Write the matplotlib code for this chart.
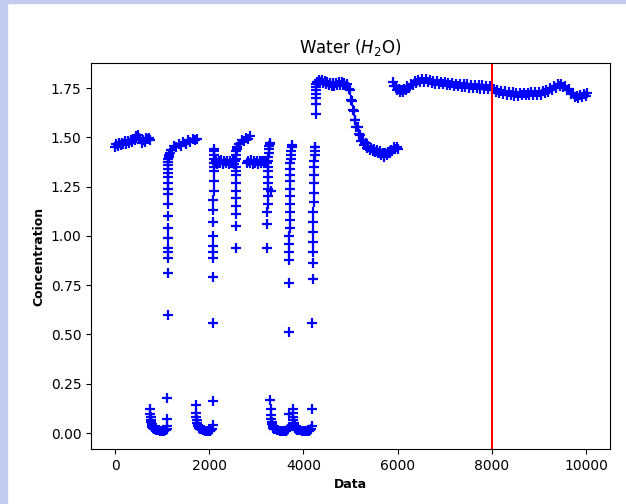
import numpy as np
import matplotlib.pyplot as plt
from matplotlib.patches import Rectangle

# segment before first dip
x_a = [0, 30, 60, 90, 120, 150, 180, 210, 240, 270, 300, 330, 360, 390, 420, 450, 480,
       510, 540, 570, 600, 630, 660, 690, 720, 750]
y_a = [1.452, 1.466, 1.456, 1.472, 1.462, 1.472, 1.466, 1.48, 1.465, 1.482, 1.472, 1.484,
       1.476, 1.494, 1.484, 1.506, 1.512, 1.496, 1.49, 1.47, 1.484, 1.478, 1.496, 1.49,
       1.498, 1.484]

# low clusters (near zero)
x_low1 = [745, 750, 755, 760, 768, 776, 785, 795, 810, 830, 850, 875, 900, 930, 960, 990,
          1020, 1050, 1075, 1095, 1105]
y_low1 = [0.12, 0.095, 0.08, 0.068, 0.055, 0.045, 0.038, 0.032, 0.027, 0.022, 0.019, 0.016,
          0.014, 0.013, 0.012, 0.012, 0.011, 0.012, 0.014, 0.02, 0.035]
x_low2 = [1720, 1725, 1730, 1738, 1746, 1755, 1765, 1780, 1800, 1830, 1860, 1890, 1920,
          1950, 1980, 2010, 2040, 2060, 2075]
y_low2 = [0.14, 0.10, 0.08, 0.065, 0.052, 0.042, 0.034, 0.027, 0.022, 0.018, 0.015, 0.013,
          0.012, 0.011, 0.012, 0.012, 0.014, 0.022, 0.04]
x_low3 = [3300, 3305, 3310, 3318, 3326, 3335, 3345, 3360, 3380, 3410, 3440, 3470, 3500,
          3530, 3560, 3590, 3620, 3650, 3670, 3685]
y_low3 = [0.17, 0.12, 0.09, 0.07, 0.055, 0.045, 0.036, 0.028, 0.022, 0.018, 0.015, 0.013,
          0.012, 0.011, 0.012, 0.011, 0.012, 0.013, 0.018, 0.03]
x_low4 = [3770, 3775, 3780, 3786, 3794, 3802, 3812, 3825, 3845, 3870, 3900, 3930, 3960,
          3990, 4020, 4050, 4080, 4110, 4140, 4165, 4180]
y_low4 = [0.12, 0.10, 0.08, 0.065, 0.052, 0.042, 0.034, 0.027, 0.021, 0.017, 0.014, 0.013,
          0.012, 0.011, 0.012, 0.011, 0.012, 0.012, 0.014, 0.02, 0.035]

# recovery columns
x_rise1 = [1112, 1114, 1116, 1117, 1118, 1119, 1120, 1121, 1122, 1123, 1124, 1125, 1126,
           1127, 1128, 1129, 1130, 1131, 1132, 1134, 1136, 1140]
y_rise1 = [0.07, 0.18, 0.60, 0.81, 0.89, 0.92, 0.94, 0.99, 1.04, 1.10, 1.16, 1.21, 1.24,
           1.27, 1.30, 1.32, 1.34, 1.36, 1.375, 1.39, 1.40, 1.41]
x_top1 = [1160, 1190, 1220, 1260, 1300, 1350, 1400, 1450, 1500, 1550, 1600, 1650, 1700, 1740]
y_top1 = [1.42, 1.436, 1.436, 1.454, 1.45, 1.466, 1.458, 1.476, 1.468, 1.484, 1.476, 1.492,
          1.484, 1.494]

x_rise2 = [2080, 2082, 2084, 2085, 2086, 2087, 2088, 2089, 2090, 2091, 2092, 2093, 2094,
           2095, 2096, 2097, 2098, 2100, 2105]
y_rise2 = [0.16, 0.56, 0.79, 0.89, 0.92, 0.95, 1.00, 1.07, 1.13, 1.18, 1.23, 1.28, 1.33,
           1.35, 1.37, 1.39, 1.41, 1.43, 1.44]
x_bar1 = [2110, 2140, 2170, 2200, 2230, 2260, 2290, 2320, 2350, 2380, 2410, 2440, 2470,
          2500, 2530, 2555]
y_bar1 = [1.368, 1.381, 1.366, 1.382, 1.368, 1.383, 1.367, 1.381, 1.37, 1.382, 1.367,
          1.381, 1.368, 1.382, 1.367, 1.38]

x_rise3 = [2562, 2563, 2564, 2565, 2566, 2567, 2568, 2569, 2570, 2572, 2574, 2576, 2578, 2580]
y_rise3 = [0.94, 1.05, 1.11, 1.15, 1.19, 1.23, 1.27, 1.31, 1.33, 1.35, 1.39, 1.41, 1.43, 1.44]
x_top3 = [2600, 2630, 2660, 2700, 2740, 2780, 2820, 2860]
y_top3 = [1.45, 1.466, 1.466, 1.486, 1.482, 1.499, 1.492, 1.505]
x_bar2 = [2800, 2830, 2860, 2890, 2920, 2950, 2980, 3010, 3040, 3070, 3100, 3130, 3160,
          3190, 3220]
y_bar2 = [1.368, 1.381, 1.37, 1.383, 1.367, 1.381, 1.369, 1.382, 1.367, 1.381, 1.368,
          1.382, 1.369, 1.38, 1.37]

x_rise4 = [3232, 3234, 3236, 3238, 3240, 3242, 3244, 3246, 3248, 3250, 3254, 3258, 3262,
           3268, 3275, 3285, 3295, 3310]
y_rise4 = [0.94, 1.06, 1.12, 1.16, 1.20, 1.24, 1.27, 1.30, 1.33, 1.35, 1.38, 1.40, 1.42,
           1.44, 1.455, 1.465, 1.47, 1.23]

x_rise5 = [3692, 3694, 3696, 3698, 3700, 3702, 3704, 3706, 3708, 3710, 3712, 3714, 3716,
           3718, 3720, 3723, 3726, 3730, 3735, 3742, 3750, 3760]
y_rise5 = [0.095, 0.51, 0.76, 0.88, 0.92, 0.96, 1.00, 1.04, 1.08, 1.12, 1.16, 1.20, 1.24,
           1.28, 1.31, 1.34, 1.37, 1.39, 1.41, 1.43, 1.45, 1.46]

x_rise6 = [4190, 4193, 4196, 4199, 4202, 4205, 4208, 4211, 4214, 4217, 4220, 4223, 4226,
           4229, 4232, 4236, 4240, 4245, 4250]
y_rise6 = [0.12, 0.56, 0.78, 0.86, 0.92, 0.97, 1.02, 1.07, 1.12, 1.17, 1.22, 1.27, 1.31,
           1.35, 1.38, 1.41, 1.43, 1.45, 1.45]
x_jump = [4258, 4261, 4264, 4267, 4270, 4273, 4277, 4282]
y_jump = [1.62, 1.67, 1.70, 1.72, 1.74, 1.755, 1.77, 1.78]

# high plateau and fall
x_b = [4300, 4330, 4360, 4390, 4420, 4450, 4480, 4510, 4540, 4570, 4600, 4630, 4660, 4690,
       4720, 4750, 4780, 4810, 4840, 4870, 4900, 4930, 4960, 4985, 5005, 5025, 5045, 5065,
       5085, 5105, 5125, 5150, 5175, 5200, 5230, 5260, 5290, 5320, 5350, 5380, 5410, 5440,
       5470, 5500, 5530, 5560, 5590, 5620, 5650, 5680, 5710, 5740, 5770, 5800, 5830, 5860,
       5890, 5920, 5950, 5980, 6000]
y_b = [1.78, 1.792, 1.782, 1.79, 1.776, 1.786, 1.772, 1.782, 1.766, 1.776, 1.762, 1.776,
       1.76, 1.778, 1.764, 1.78, 1.766, 1.782, 1.766, 1.778, 1.762, 1.772, 1.745, 1.74, 1.69,
       1.685, 1.64, 1.635, 1.59, 1.59, 1.55, 1.55, 1.515, 1.51, 1.48, 1.485, 1.46, 1.47,
       1.448, 1.458, 1.436, 1.448, 1.43, 1.442, 1.424, 1.436, 1.418, 1.43, 1.41, 1.422,
       1.402, 1.418, 1.41, 1.428, 1.418, 1.438, 1.43, 1.452, 1.442, 1.45, 1.44]

x_c = [5900, 5930, 5960, 5990, 6020, 6050, 6080, 6110, 6140, 6170, 6200, 6240, 6280, 6320,
       6360, 6400, 6440, 6480, 6520, 6560, 6600, 6640, 6680, 6720, 6760, 6800, 6840, 6880,
       6920, 6960, 7000, 7040, 7080, 7120, 7160, 7200, 7240, 7280, 7320, 7360, 7400, 7440,
       7480, 7520, 7560, 7600, 7640, 7680, 7720, 7760, 7800, 7840, 7880, 7920, 7960, 8000,
       8040, 8080, 8120, 8160, 8200, 8240, 8280, 8320, 8360, 8400, 8440, 8480, 8520, 8560,
       8600, 8640, 8680, 8720, 8760, 8800, 8840, 8880, 8920, 8960, 9000, 9040, 9080, 9120,
       9160, 9200, 9240, 9280, 9320, 9360, 9400, 9440, 9480, 9520, 9560, 9600, 9640, 9680,
       9720, 9760, 9800, 9840, 9880, 9920, 9960, 10000, 10030]
y_c = [1.782, 1.758, 1.762, 1.738, 1.747, 1.729, 1.741, 1.728, 1.747, 1.738, 1.759, 1.751,
       1.772, 1.765, 1.785, 1.775, 1.793, 1.781, 1.797, 1.783, 1.795, 1.779, 1.792, 1.775,
       1.787, 1.771, 1.786, 1.769, 1.782, 1.769, 1.781, 1.765, 1.777, 1.764, 1.775, 1.759,
       1.772, 1.76, 1.77, 1.755, 1.77, 1.753, 1.768, 1.751, 1.767, 1.75, 1.765, 1.748,
       1.764, 1.747, 1.763, 1.746, 1.762, 1.745, 1.76, 1.738, 1.745, 1.728, 1.74, 1.725,
       1.737, 1.721, 1.733, 1.717, 1.729, 1.713, 1.729, 1.712, 1.727, 1.711, 1.727, 1.715,
       1.726, 1.714, 1.727, 1.715, 1.728, 1.716, 1.729, 1.717, 1.732, 1.717, 1.734, 1.723,
       1.74, 1.73, 1.749, 1.741, 1.76, 1.751, 1.769, 1.758, 1.771, 1.753, 1.762, 1.741,
       1.745, 1.721, 1.725, 1.703, 1.712, 1.697, 1.714, 1.704, 1.721, 1.709, 1.725]

x_all = np.concatenate([x_a, x_low1, x_rise1, x_top1, x_low2, x_rise2, x_bar1, x_rise3,
                        x_top3, x_bar2, x_rise4, x_low3, x_rise5, x_low4, x_rise6, x_jump,
                        x_b, x_c])
y_all = np.concatenate([y_a, y_low1, y_rise1, y_top1, y_low2, y_rise2, y_bar1, y_rise3,
                        y_top3, y_bar2, y_rise4, y_low3, y_rise5, y_low4, y_rise6, y_jump,
                        y_b, y_c])

fig = plt.figure(figsize=(6.26, 5.04), dpi=100)
# lavender frame at left/top edge
fig.patches.append(Rectangle((0, 0), 7 / 626, 1, transform=fig.transFigure,
                             color='#c3cbf0', zorder=0))
fig.patches.append(Rectangle((0, 1 - 3 / 504), 1, 3 / 504, transform=fig.transFigure,
                             color='#c3cbf0', zorder=0))

ax = fig.add_axes([91 / 626, 1 - 449 / 504, 519 / 626, 386 / 504])
ax.scatter(x_all, y_all, marker='+', color='blue', s=45, linewidths=1.6)
ax.axvline(8000, color='red', linewidth=1.5)

ax.set_xlim(-510, 10510)
ax.set_ylim(-0.081, 1.877)
ax.set_xticks([0, 2000, 4000, 6000, 8000, 10000])
ax.set_yticks([0, 0.25, 0.5, 0.75, 1.0, 1.25, 1.5, 1.75])
ax.tick_params(labelsize=10)
ax.set_title('Water ($H_2$O)', fontsize=12, pad=7)
ax.set_xlabel('Data', fontweight='bold', fontsize=9)
ax.set_ylabel('Concentration', fontweight='bold', fontsize=9)

fig.savefig('out.png', dpi=100)
